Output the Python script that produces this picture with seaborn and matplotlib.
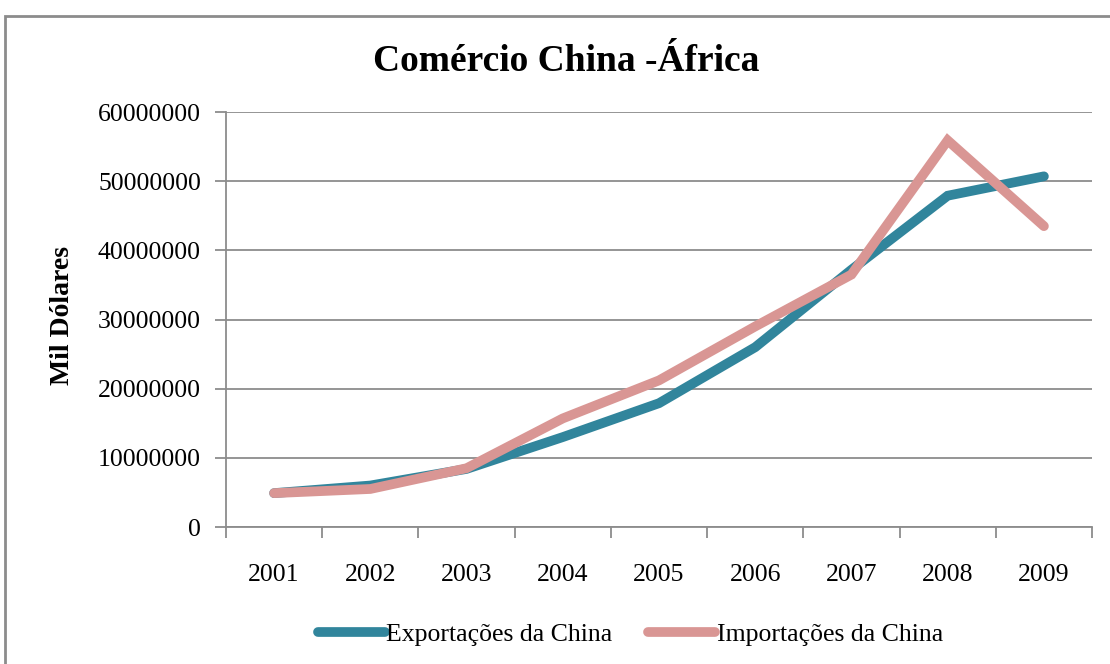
import matplotlib
matplotlib.use("Agg")
import matplotlib.pyplot as plt
from matplotlib.patches import Rectangle
from matplotlib.lines import Line2D
import seaborn as sns
import pandas as pd
import numpy as np

years = ["2001", "2002", "2003", "2004", "2005", "2006", "2007", "2008", "2009"]
exportacoes = [4.9e6, 6.0e6, 8.4e6, 13.0e6, 17.9e6, 26.0e6, 37.2e6, 47.9e6, 50.7e6]
importacoes = [4.9e6, 5.5e6, 8.5e6, 15.7e6, 21.2e6, 29.0e6, 36.5e6, 55.9e6, 43.5e6]
series_names = ["Exportações da China", "Importações da China"]
colors = ["#31859C", "#D99694"]
yticks = [0, 10000000, 20000000, 30000000, 40000000, 50000000, 60000000]

sns.set_theme(style="white")
plt.rcParams['font.family'] = ['Liberation Serif', 'DejaVu Serif']
plt.rcParams['text.color'] = 'black'
plt.rcParams['xtick.color'] = 'black'
plt.rcParams['ytick.color'] = 'black'
plt.rcParams['axes.labelcolor'] = 'black'

pos = np.arange(len(years))
df = pd.DataFrame({
    "pos": np.concatenate([pos, pos]),
    "valor": exportacoes + importacoes,
    "serie": [series_names[0]] * len(years) + [series_names[1]] * len(years),
})

fig = plt.figure(figsize=(11.1, 6.64), dpi=100)
ax = fig.add_axes([0.2036, 0.2063, 0.9838 - 0.2036, 0.8313 - 0.2063])

sns.lineplot(data=df, x="pos", y="valor", hue="serie", palette=colors,
             linewidth=7, ax=ax, legend=False, solid_capstyle="round",
             solid_joinstyle="miter")

ax.set_xlim(-0.5, len(years) - 0.5)
ax.set_ylim(0, 60000000)
ax.set_yticks(yticks)
ax.set_yticklabels([str(v) for v in yticks], fontsize=18.5, color="black")
ax.yaxis.grid(True, color="#8C8C8C", linewidth=1.3)
ax.set_axisbelow(True)

# category boundaries as major ticks, labels at minor ticks
ax.set_xticks(np.arange(-0.5, len(years) + 0.5, 1.0))
ax.set_xticklabels([])
ax.set_xticks(pos, minor=True)
ax.set_xticklabels(years, minor=True, fontsize=18.5, color="black")
ax.tick_params(axis="x", which="major", length=8, width=1.3, color="#8C8C8C", direction="out", bottom=True)
ax.tick_params(axis="x", which="minor", length=0, pad=26.5)
ax.tick_params(axis="y", length=8, width=1.3, color="#8C8C8C", direction="out", left=True, pad=10)

for s in ["top", "right"]:
    ax.spines[s].set_visible(False)
for s in ["left", "bottom"]:
    ax.spines[s].set_color("#8C8C8C")
    ax.spines[s].set_linewidth(1.3)

ax.set_xlabel("")
ax.set_ylabel("")

fig.text(0.056, 0.525, "Mil Dólares", rotation=90, ha="center", va="center",
         fontsize=20, fontweight="bold", color="black")
fig.text(0.51, 0.908, "Comércio China -África", ha="center", va="center",
         fontsize=27, fontweight="bold", color="black")

handles = [Line2D([0], [0], color=c, linewidth=7, solid_capstyle="round") for c in colors]
leg = fig.legend(handles, series_names, loc="center", bbox_to_anchor=(0.568, 0.045),
                 ncol=2, frameon=False, fontsize=18.5, handlelength=2.6,
                 handletextpad=0.05, columnspacing=1.4)
for t in leg.get_texts():
    t.set_color("black")

border = Rectangle((5 / 1110, -0.1), 1.2, 1.1 - 16 / 664, transform=fig.transFigure,
                   fill=False, edgecolor="#8C8C8C", linewidth=2)
fig.patches.append(border)

fig.savefig("out.png", dpi=100)
